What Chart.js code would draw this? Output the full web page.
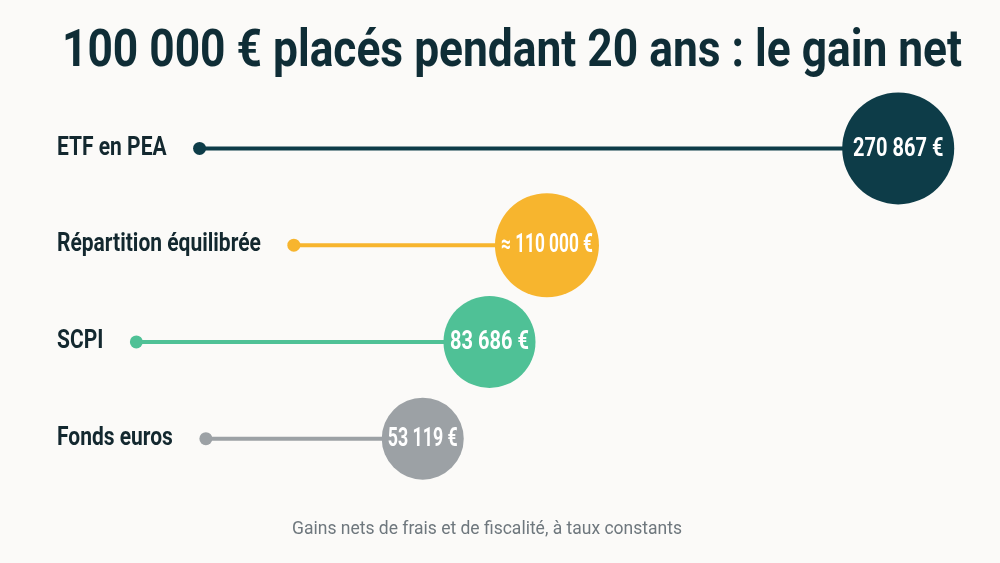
<!DOCTYPE html>
<html lang="fr">
<head>
<meta charset="utf-8">
<title>100 000 € placés pendant 20 ans : le gain net</title>
<script src="https://cdn.jsdelivr.net/npm/chart.js@4.4.1/dist/chart.umd.min.js"></script>
<style>
  html, body { margin: 0; padding: 0; background: #fbfaf8; }
  #wrap { width: 1000px; height: 563px; position: relative; }
</style>
</head>
<body>
<div id="wrap"><canvas id="gain-chart"></canvas></div>
<script>
/*
 * Data
 */
const categories = ['ETF en PEA', 'Répartition équilibrée', 'SCPI', 'Fonds euros']
const gains = [270867, 110000, 83686, 53119]
const valueLabels = ['270 867 €', '≈ 110 000 €', '83 686 €', '53 119 €']
const titleText = '100 000 € placés pendant 20 ans : le gain net'
const noteText = 'Gains nets de frais et de fiscalité, à taux constants'

/*
 * Styles
 */
const colours = ['#0d3c48', '#f7b52e', '#4fc196', '#9ca1a5']
const radii = [56, 52, 46, 41]
const titleFont = 'bold 52px Roboto, sans-serif'
const labelFont = 'bold 25px Roboto, sans-serif'
const valueFont = 'bold 25px Roboto, sans-serif'
const noteFont = '17.5px Roboto, sans-serif'
const titleWidth = 900
const labelSqueeze = 0.84
const valueSqueeze = 0.8
const labelLeft = 57
const stemGap = 33

/*
 * Draw text a bit narrower than the font, like the condensed face of the original
 */
const drawNarrow = (ctx, text, x, y, sx) => {
  ctx.save()
  ctx.translate(x, y)
  ctx.scale(sx, 1)
  ctx.fillText(text, 0, 0)
  ctx.restore()
}

/*
 * Title and note, labels, stems and start dots go under the bubbles,
 * the values on top of them
 */
const lollipopPlugin = {
  id: 'lollipop',
  beforeDatasetsDraw(chart) {
    const ctx = chart.ctx
    const xScale = chart.scales.x
    const yScale = chart.scales.y
    ctx.save()

    ctx.textAlign = 'center'
    ctx.textBaseline = 'alphabetic'
    ctx.font = titleFont
    ctx.fillStyle = '#0f2d36'
    drawNarrow(ctx, titleText, 512, 66, Math.min(1, titleWidth / ctx.measureText(titleText).width))
    ctx.font = noteFont
    ctx.fillStyle = '#6e777d'
    ctx.textBaseline = 'middle'
    ctx.fillText(noteText, 487, 530)

    ctx.font = labelFont
    ctx.textAlign = 'left'
    categories.forEach((cat, i) => {
      const y = yScale.getPixelForValue(i)
      ctx.fillStyle = '#13282f'
      drawNarrow(ctx, cat, labelLeft, y, labelSqueeze)
      const start = labelLeft + ctx.measureText(cat).width * labelSqueeze + stemGap
      const end = xScale.getPixelForValue(gains[i])
      ctx.strokeStyle = colours[i]
      ctx.lineWidth = 4
      ctx.beginPath()
      ctx.moveTo(start, y)
      ctx.lineTo(end, y)
      ctx.stroke()
      ctx.fillStyle = colours[i]
      ctx.beginPath()
      ctx.arc(start, y, 6.5, 0, Math.PI * 2)
      ctx.fill()
    })
    ctx.restore()
  },
  afterDatasetsDraw(chart) {
    const ctx = chart.ctx
    const meta = chart.getDatasetMeta(0)
    ctx.save()
    ctx.font = valueFont
    ctx.fillStyle = '#ffffff'
    ctx.textAlign = 'center'
    ctx.textBaseline = 'middle'
    meta.data.forEach((pt, i) => {
      // keep the value inside its bubble
      const room = (radii[i] * 2 - 12) / ctx.measureText(valueLabels[i]).width
      drawNarrow(ctx, valueLabels[i], pt.x, pt.y + 1, Math.min(valueSqueeze, room))
    })
    ctx.restore()
  }
}

const gainCtx = document.getElementById('gain-chart').getContext('2d')

const gainChart = new Chart(gainCtx, {
  type: 'bubble',
  data: {
    datasets: [{
      data: gains.map((g, i) => ({ x: g, y: categories[i] })),
      backgroundColor: colours,
      borderWidth: 0,
      radius: (c) => radii[c.dataIndex],
      hoverRadius: 0,
      clip: false
    }]
  },
  options: {
    responsive: true,
    maintainAspectRatio: false,
    animation: false,
    layout: {
      padding: { left: 60, right: 60, top: 100, bottom: 76 }
    },
    scales: {
      x: { type: 'linear', min: -113000, max: 290000, display: false },
      y: { type: 'category', labels: categories, offset: true, display: false }
    },
    plugins: {
      legend: { display: false },
      tooltip: { enabled: false },
      title: { display: false }
    }
  },
  plugins: [lollipopPlugin]
})
</script>
</body>
</html>
